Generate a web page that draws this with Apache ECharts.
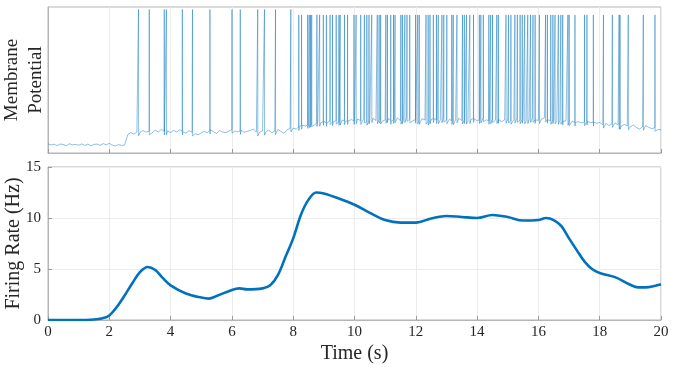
<!DOCTYPE html>
<html>
<head>
<meta charset="utf-8">
<script src="https://cdn.jsdelivr.net/npm/echarts@6/dist/echarts.min.js"></script>
<style>
    html,body{margin:0;padding:0;background:#fff;}
    #main{width:673px;height:368px;}
</style>
</head>
<body>
<div id="main"></div>
<script>
// 膜电位基线，每 0.1 s 一个点 (0 ~ 20 s)
var vmStep=0.1;
var vmBase=[
    -72.5,-73.4,-72.8,-73.9,-72.6,-73.1,-74.0,-72.4,-73.3,-72.9,
    -73.6,-72.5,-73.8,-72.7,-74.1,-73.0,-72.6,-73.7,-72.3,-73.2,
    -72.1,-73.5,-74.2,-73.1,-73.8,-73.4,-65.0,-63.2,-64.5,-62.8,
    -63.0,-61.5,-62.9,-62.0,-63.4,-61.2,-62.7,-60.5,-62.3,-61.8,
    -63.1,-61.4,-62.8,-60.9,-62.5,-63.7,-61.6,-62.9,-64.2,-65.0,
    -63.4,-62.1,-63.5,-60.8,-62.6,-63.9,-61.5,-62.8,-63.3,-62.0,
    -60.7,-61.9,-62.6,-61.3,-63.0,-62.2,-61.5,-60.4,-62.8,-63.1,
    -61.6,-62.9,-61.2,-63.4,-62.0,-60.6,-62.3,-63.8,-61.0,-59.8,
    -59.5,-60.4,-58.2,-57.1,-58.0,-56.3,-55.4,-56.8,-54.6,-55.2,
    -54.1,-55.3,-53.6,-54.8,-53.2,-54.5,-52.9,-54.0,-53.4,-52.6,
    -53.8,-52.1,-53.5,-51.9,-54.2,-52.7,-51.5,-53.3,-52.4,-54.0,
    -52.8,-51.6,-53.9,-52.3,-51.2,-53.4,-52.6,-50.9,-52.1,-53.6,
    -52.4,-53.7,-51.8,-52.9,-54.1,-52.5,-51.7,-53.2,-52.8,-51.4,
    -53.0,-52.2,-54.0,-52.7,-51.5,-53.3,-52.6,-53.9,-52.3,-51.8,
    -53.5,-52.4,-51.2,-52.8,-53.6,-52.0,-53.1,-52.5,-54.2,-52.9,
    -52.1,-53.4,-52.6,-51.6,-53.0,-52.3,-53.7,-52.0,-51.5,-52.8,
    -53.2,-52.1,-51.0,-52.7,-53.4,-52.5,-53.8,-53.1,-54.0,-53.5,
    -54.6,-53.8,-55.0,-54.2,-55.3,-54.5,-53.9,-55.1,-54.7,-55.5,
    -54.9,-56.8,-55.6,-57.4,-56.0,-55.2,-57.0,-58.1,-56.5,-57.6,
    -58.4,-57.0,-59.1,-60.3,-58.6,-57.4,-58.9,-60.0,-59.2,-60.7,
    -61.0
];

// 放电时刻 (s)
var spikeTimes=[
    2.95,3.30,3.79,3.86,4.38,4.71,5.28,6.00,6.27,6.84,7.06,7.42,7.92,
    8.18,8.27,8.47,8.52,8.56,8.60,8.77,8.86,8.98,9.08,9.20,9.28,9.40,9.49,9.53,9.67,9.77,
    9.98,10.05,10.20,10.32,10.40,10.47,10.56,10.74,10.80,10.85,11.02,11.07,11.18,11.27,11.32,
    11.51,11.56,11.64,11.71,11.80,11.99,12.06,12.11,12.33,12.40,12.46,12.57,12.67,12.73,12.85,12.91,
    13.01,13.17,13.22,13.34,13.52,13.58,13.65,13.76,13.88,14.07,14.12,14.20,14.38,14.44,14.50,
    14.64,14.69,14.94,15.02,15.10,15.23,15.31,15.40,15.47,15.55,15.65,15.74,15.82,15.89,
    16.03,16.23,16.29,16.40,16.47,16.54,16.65,16.73,16.79,16.96,17.00,17.19,17.50,17.58,17.79,
    18.12,18.41,18.63,18.66,18.93,19.42,19.80
];
var spikePeakEarly=38;   // 8 s 以前
var spikePeakLate=33.5;

// 放电频率 (Hz)
var rateTime=[0,0.5,1,1.5,1.75,2,2.25,2.5,2.75,3,3.25,3.5,3.75,4,4.5,5,5.25,5.5,6,6.25,6.5,7,7.25,7.5,7.75,
    8,8.25,8.5,8.75,9,9.5,10,10.5,11,11.5,12,12.5,13,13.5,14,14.5,15,15.5,16,16.25,16.5,16.75,
    17,17.25,17.5,17.75,18,18.5,19,19.25,19.5,20];
var rateVal=[0,0,0,0.05,0.15,0.45,1.3,2.4,3.6,4.7,5.2,4.9,4.1,3.4,2.6,2.2,2.1,2.35,2.95,3.1,3.0,3.1,3.4,4.4,6.2,
    8.0,10.3,11.8,12.5,12.4,11.9,11.3,10.5,9.8,9.55,9.55,9.95,10.2,10.1,10.0,10.3,10.1,9.75,9.8,10.0,9.8,9.2,
    8.0,6.85,5.75,5.0,4.6,4.2,3.45,3.2,3.2,3.5];

var xTicks=[0,20,2];   // min, max, interval

function baseAt(t){//取基线
    var k=t/vmStep, i=Math.floor(k);
    if(i>=vmBase.length-1) return vmBase[vmBase.length-1];
    var f=k-i;
    return vmBase[i]*(1-f)+vmBase[i+1]*f;
}

var vmData=[];
for(var i=0;i<vmBase.length;i++){
    vmData.push([i*vmStep,vmBase[i]]);
}
for(var j=0;j<spikeTimes.length;j++){
    var t=spikeTimes[j], b=baseAt(t);
    var pk=t<8?spikePeakEarly:spikePeakLate;
    vmData.push([t,b]);
    vmData.push([t+0.003,pk]);
    vmData.push([t+0.006,b-3]);
}
vmData.sort(function(a,b){return a[0]-b[0];});

var rateData=[];
for(var i=0;i<rateTime.length;i++){
    rateData.push([rateTime[i],rateVal[i]]);
}

var fontFam='"Liberation Serif","DejaVu Serif",serif';
var gridCol='#ececec';
var boxCol='#b5b5b5';

var myChart=echarts.init(document.getElementById('main'));
var option={
    animation:false,
    grid:[
        {left:48,right:12,top:7,height:146,show:true,borderColor:boxCol,borderWidth:1,containLabel:false,outerBoundsMode:'none'},
        {left:48,right:12,top:167,height:153,show:true,borderColor:boxCol,borderWidth:1,containLabel:false,outerBoundsMode:'none'}
    ],
    xAxis:[
        {
            type:'value',gridIndex:0,min:xTicks[0],max:xTicks[1],interval:xTicks[2],
            axisLine:{show:true,onZero:false,lineStyle:{color:boxCol}},
            axisTick:{show:true,inside:true,length:4,lineStyle:{color:'#999'}},
            axisLabel:{show:false},
            splitLine:{show:true,lineStyle:{color:gridCol}}
        },
        {
            type:'value',gridIndex:1,min:xTicks[0],max:xTicks[1],interval:xTicks[2],
            name:'Time (s)',nameLocation:'middle',nameGap:24,nameMoveOverlap:false,
            nameTextStyle:{fontFamily:fontFam,fontSize:20,color:'#262626'},
            axisLine:{show:true,onZero:false,lineStyle:{color:boxCol}},
            axisTick:{show:true,inside:true,length:4,lineStyle:{color:'#999'}},
            axisLabel:{fontFamily:fontFam,fontSize:15,color:'#262626',margin:5},
            splitLine:{show:true,lineStyle:{color:gridCol}}
        }
    ],
    yAxis:[
        {
            type:'value',gridIndex:0,min:-80,max:40,
            name:'Membrane\nPotential',nameLocation:'middle',nameGap:0,nameRotate:90,nameMoveOverlap:false,
            nameTextStyle:{fontFamily:fontFam,fontSize:19,color:'#262626',lineHeight:24},
            axisLine:{show:true,onZero:false,lineStyle:{color:boxCol}},
            axisTick:{show:false},
            axisLabel:{show:false},
            splitLine:{show:false}
        },
        {
            type:'value',gridIndex:1,min:0,max:15,interval:5,
            name:'Firing Rate (Hz)',nameLocation:'middle',nameGap:24,nameRotate:90,nameMoveOverlap:false,
            nameTextStyle:{fontFamily:fontFam,fontSize:20,color:'#262626'},
            axisLine:{show:true,onZero:false,lineStyle:{color:boxCol}},
            axisTick:{show:true,inside:true,length:4,lineStyle:{color:'#999'}},
            axisLabel:{fontFamily:fontFam,fontSize:15,color:'#262626',margin:7},
            splitLine:{show:true,lineStyle:{color:gridCol}}
        }
    ],
    series:[
        {
            type:'line',xAxisIndex:0,yAxisIndex:0,data:vmData,
            showSymbol:false,sampling:null,
            lineStyle:{color:'#0072BD',width:0.6,opacity:0.75}
        },
        {
            type:'line',xAxisIndex:1,yAxisIndex:1,data:rateData,
            showSymbol:false,smooth:0.35,
            lineStyle:{color:'#0072BD',width:2.6}
        }
    ]
};
myChart.setOption(option);
</script>
</body>
</html>
